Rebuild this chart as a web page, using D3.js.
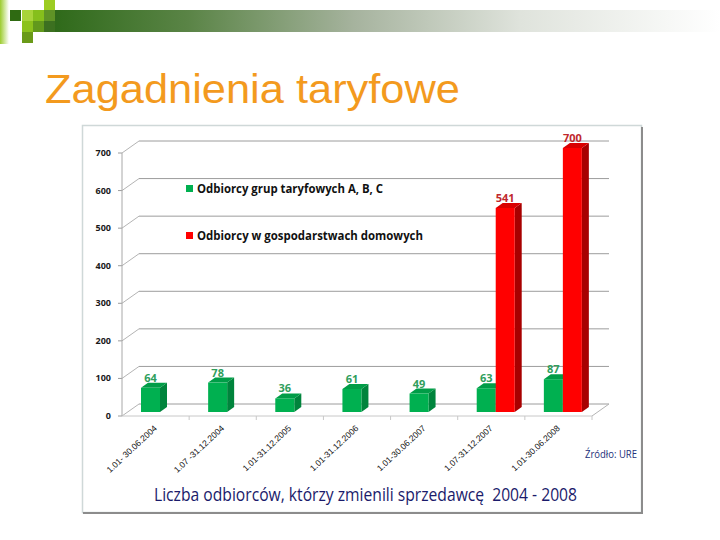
<!DOCTYPE html>
<html>
<head>
<meta charset="utf-8">
<script src="https://cdn.jsdelivr.net/npm/d3@7"></script>
<style>
  html,body{margin:0;padding:0;background:#fff;}
  svg{display:block;}
</style>
</head>
<body>
<div id="slide"></div>
<script>
//////////////////////dane//////////////////////
var okresy=[
    "1.01- 30.06.2004",
    "1.07 -31.12.2004",
    "1.01-31.12.2005",
    "1.01-31.12.2006",
    "1.01-30.06.2007",
    "1.07-31.12.2007",
    "1.01-30.06.2008"
];
var grupyABC=[64,78,36,61,49,63,87];//zielone
var gospodarstwa=[0,0,0,0,0,541,700];//czerwone
var serie=["Odbiorcy grup taryfowych A, B, C","Odbiorcy w gospodarstwach domowych"];
var yTicks=[0,100,200,300,400,500,600,700];

//kolory [front, bok, gora]
var kolory=[
    ["#00b050","#00843c","#009d47"],
    ["#ff0000","#a80000","#d90000"]
];
var kolorEtykiet=["#2f9e5c","#c0282d"];

//////////////////////rysowanie//////////////////////
var svg=d3.select("#slide").append("svg").attr("width",720).attr("height",540);

//pasek ozdobny u gory
var defs=svg.append("defs");
var g1=defs.append("linearGradient").attr("id","pasek");
g1.append("stop").attr("offset","0").attr("stop-color","#2f6a1a");
g1.append("stop").attr("offset","0.2").attr("stop-color","#5a8446");
g1.append("stop").attr("offset","0.45").attr("stop-color","#a6b39e");
g1.append("stop").attr("offset","0.7").attr("stop-color","#dfe3dc");
g1.append("stop").attr("offset","1").attr("stop-color","#ffffff");
var g2=defs.append("linearGradient").attr("id","listwa");
g2.append("stop").attr("offset","0").attr("stop-color","#9ccc2e");
g2.append("stop").attr("offset","1").attr("stop-color","#ffffff");

svg.append("rect").attr("x",0).attr("y",0).attr("width",9).attr("height",44).attr("fill","url(#listwa)");
svg.append("rect").attr("x",55).attr("y",10).attr("width",665).attr("height",22).attr("fill","url(#pasek)");
//kwadraty
var kwadraty=[
    [10,10,"#2f6a12"],[22,10,"#a8d43a"],[33,10,"#86bf1c"],[44,0,"#9ccc22"],[44,10,"#5f9326"],
    [22,21,"#8cc21c"],[33,21,"#62991c"],[44,21,"#3c7020"],[22,32,"#6a9a18"]
];
svg.append("g").selectAll("rect").data(kwadraty).enter().append("rect")
    .attr("x",function(d){return d[0];})
    .attr("y",function(d){return d[1];})
    .attr("width",11).attr("height",11)
    .attr("fill",function(d){return d[2];});

//tytul
svg.append("text").attr("x",45).attr("y",103)
    .attr("font-family","Liberation Sans, Arial, sans-serif")
    .attr("font-size",41).attr("fill","#f39a1e")
    .attr("textLength",415).attr("lengthAdjust","spacingAndGlyphs")
    .text("Zagadnienia taryfowe");

//ramka wykresu
svg.append("rect").attr("x",82.5).attr("y",125.5).attr("width",559).attr("height",387)
    .attr("fill","#fff").attr("stroke","#cfd8d8").attr("stroke-width",1.5);
svg.append("line").attr("x1",642).attr("x2",642).attr("y1",127).attr("y2",513)
    .attr("stroke","#8c8c8c").attr("stroke-width",2);
svg.append("line").attr("x1",83).attr("x2",643).attr("y1",513).attr("y2",513)
    .attr("stroke","#8c8c8c").attr("stroke-width",2);

//skale
var x0=122, x1=592;//przednia krawedz
var glebX=17, glebY=-12;//przesuniecie tylnej sciany
var xScale=d3.scaleBand().domain(okresy).range([x0,x1]).paddingInner(0).paddingOuter(0);
var xSerie=d3.scaleBand().domain(serie).range([0,38]);
var yFront=d3.scaleLinear().domain([0,700]).range([416,153]);
var yBar=d3.scaleLinear().domain([0,700]).range([412,148]);

var siatka=svg.append("g");
yTicks.forEach(function(t){
    var yf=yFront(t);
    siatka.append("line").attr("x1",x0).attr("y1",yf).attr("x2",x0+glebX).attr("y2",yf+glebY)
        .attr("stroke","#b4b4b4").attr("stroke-width",1);
    siatka.append("line").attr("x1",x0+glebX).attr("y1",yf+glebY).attr("x2",x1+glebX).attr("y2",yf+glebY)
        .attr("stroke","#9c9c9c").attr("stroke-width",1);
    //kreska osi
    siatka.append("line").attr("x1",x0-4).attr("y1",yf).attr("x2",x0).attr("y2",yf)
        .attr("stroke","#9c9c9c").attr("stroke-width",1);
    //etykieta
    siatka.append("text").attr("x",111).attr("y",yf+3)
        .attr("text-anchor","end")
        .attr("font-family","Open Sans, sans-serif").attr("font-weight","bold")
        .attr("font-size",9).attr("fill","#1a1a1a")
        .text(t);
});
//os Y
siatka.append("line").attr("x1",x0).attr("y1",yFront(700)).attr("x2",x0).attr("y2",yFront(0))
    .attr("stroke","#a8a8a8").attr("stroke-width",1);
//podloga przod + prawa krawedz
siatka.append("line").attr("x1",x0).attr("y1",yFront(0)).attr("x2",x1).attr("y2",yFront(0))
    .attr("stroke","#c8c8c8").attr("stroke-width",1);
siatka.append("line").attr("x1",x1).attr("y1",yFront(0)).attr("x2",x1+glebX).attr("y2",yFront(0)+glebY)
    .attr("stroke","#b4b4b4").attr("stroke-width",1);
//kreski kategorii
okresy.forEach(function(c,i){
    if(i==0) return;
    var xx=xScale(c);
    siatka.append("line").attr("x1",xx).attr("y1",yFront(0)).attr("x2",xx).attr("y2",yFront(0)+4)
        .attr("stroke","#c8c8c8").attr("stroke-width",1);
});
siatka.append("line").attr("x1",x1).attr("y1",yFront(0)).attr("x2",x1).attr("y2",yFront(0)+4)
    .attr("stroke","#c8c8c8").attr("stroke-width",1);

//slupki 3D
var dx=7, dy=-5;
var bw=xSerie.bandwidth();
var slupki=svg.append("g");
var etykiety=svg.append("g");
[grupyABC,gospodarstwa].forEach(function(dane,s){
    dane.forEach(function(v,i){
        if(v<=0) return;
        var xl=xScale(okresy[i])+19+xSerie(serie[s]);
        var yt=yBar(v), yb=yBar(0);
        var k=kolory[s];
        //bok
        slupki.append("polygon")
            .attr("points",[[xl+bw,yt],[xl+bw+dx,yt+dy],[xl+bw+dx,yb+dy],[xl+bw,yb]].join(" "))
            .attr("fill",k[1]);
        //gora
        slupki.append("polygon")
            .attr("points",[[xl,yt],[xl+dx,yt+dy],[xl+bw+dx,yt+dy],[xl+bw,yt]].join(" "))
            .attr("fill",k[2]);
        //front
        slupki.append("rect").attr("x",xl).attr("y",yt).attr("width",bw).attr("height",yb-yt)
            .attr("fill",k[0]);
        //wartosc
        etykiety.append("text").attr("x",xl+bw/2).attr("y",yt-6)
            .attr("text-anchor","middle")
            .attr("font-family","Open Sans, sans-serif").attr("font-weight","bold")
            .attr("font-size",11).attr("fill",kolorEtykiet[s])
            .text(v);
    });
});

//legenda
var legY=[192,239];
var legW=[186,226];
serie.forEach(function(n,s){
    svg.append("rect").attr("x",186).attr("y",legY[s]-7).attr("width",7).attr("height",7)
        .attr("fill",kolory[s][0]);
    svg.append("text").attr("x",197).attr("y",legY[s]+1)
        .attr("font-family","Open Sans, sans-serif").attr("font-weight","bold")
        .attr("font-size",12).attr("fill","#111")
        .attr("textLength",legW[s]).attr("lengthAdjust","spacingAndGlyphs")
        .text(n);
});

//etykiety osi X
okresy.forEach(function(c){
    var cx=xScale(c)+xScale.bandwidth()/2+2;
    svg.append("text")
        .attr("transform","translate("+cx+",429) rotate(-43)")
        .attr("text-anchor","end")
        .attr("font-family","Liberation Sans, Arial, sans-serif")
        .attr("font-size",8.6).attr("fill","#111")
        .text(c);
});

//zrodlo
svg.append("text").attr("x",585).attr("y",458)
    .attr("font-family","Open Sans, sans-serif").attr("font-size",10).attr("fill","#22307a")
    .attr("textLength",52).attr("lengthAdjust","spacingAndGlyphs")
    .text("Źródło: URE");

//podpis
svg.append("text").attr("x",154).attr("y",501)
    .attr("font-family","Open Sans, sans-serif").attr("font-size",18).attr("fill","#1b1b6b")
    .attr("textLength",423).attr("lengthAdjust","spacingAndGlyphs")
    .attr("xml:space","preserve")
    .text("Liczba odbiorców, którzy zmienili sprzedawcę  2004 - 2008");
</script>
</body>
</html>
